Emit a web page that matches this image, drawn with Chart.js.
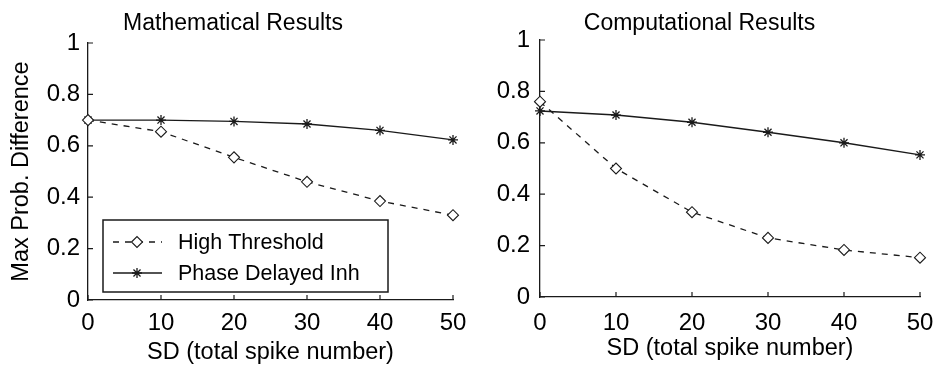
<!DOCTYPE html>
<html>
<head>
<meta charset="utf-8">
<script src="https://cdn.jsdelivr.net/npm/chart.js@4.4.1/dist/chart.umd.min.js"></script>
<style>
  html, body { margin: 0; padding: 0; background: #fff; }
  #wrap { position: relative; width: 933px; height: 369px; overflow: hidden; }
  .panel { position: absolute; top: 0; height: 369px; }
  #leftPanel { left: 0; width: 466px; }
  #rightPanel { left: 466px; width: 467px; }
</style>
</head>
<body>
<div id="wrap">
  <div class="panel" id="leftPanel"><canvas id="mathChart"></canvas></div>
  <div class="panel" id="rightPanel"><canvas id="compChart"></canvas></div>
</div>
<script>
// values
const sdValues = [0, 10, 20, 30, 40, 50];
const yTickValues = [0, 0.2, 0.4, 0.6, 0.8, 1];
const seriesLabels = ["High Threshold", "Phase Delayed Inh"];

const mathHighThreshold = [0.70, 0.655, 0.555, 0.46, 0.385, 0.33];
const mathPhaseDelayed = [0.70, 0.70, 0.695, 0.685, 0.66, 0.623];
const compHighThreshold = [0.76, 0.50, 0.33, 0.23, 0.183, 0.153];
const compPhaseDelayed = [0.724, 0.708, 0.68, 0.641, 0.60, 0.553];

const INK = "#1a1a1a";
const FONT = "'Liberation Sans', Arial, Helvetica, sans-serif";

const $ = (id) => document.getElementById(id);

// MATLAB-style inward tick marks
const inwardTicks = {
  id: "inwardTicks",
  afterDraw(chart) {
    const { ctx, chartArea, scales } = chart;
    ctx.save();
    ctx.strokeStyle = INK;
    ctx.lineWidth = 1.2;
    ctx.beginPath();
    scales.x.ticks.forEach((t) => {
      const px = scales.x.getPixelForValue(t.value);
      ctx.moveTo(px, chartArea.bottom);
      ctx.lineTo(px, chartArea.bottom - 5);
    });
    scales.y.ticks.forEach((t) => {
      const py = scales.y.getPixelForValue(t.value);
      ctx.moveTo(chartArea.left, py);
      ctx.lineTo(chartArea.left + 5, py);
    });
    ctx.stroke();
    ctx.restore();
  }
};

const legendBox = {
  id: "legendBox",
  afterDatasetsDraw(chart, args, opts) {
    if (!opts.show) return;
    const { ctx, chartArea } = chart;
    const x0 = chartArea.left + 15;
    const y0 = chartArea.top + 177;
    const w = 285, h = 72;
    ctx.save();
    ctx.fillStyle = "#fff";
    ctx.fillRect(x0, y0, w, h);
    ctx.strokeStyle = INK;
    ctx.lineWidth = 1.5;
    ctx.strokeRect(x0, y0, w, h);
    const rows = [y0 + 22, y0 + 53];
    chart.data.datasets.forEach((ds, i) => {
      const y = rows[i];
      ctx.strokeStyle = INK;
      ctx.lineWidth = ds.borderWidth;
      ctx.setLineDash(ds.borderDash || []);
      ctx.beginPath();
      ctx.moveTo(x0 + 10, y);
      ctx.lineTo(x0 + 59, y);
      ctx.stroke();
      ctx.setLineDash([]);
      ctx.fillStyle = "#fff";
      ctx.lineWidth = ds.pointBorderWidth;
      Chart.helpers.drawPoint(ctx, { pointStyle: ds.pointStyle, radius: ds.pointRadius, rotation: 0, borderWidth: ds.pointBorderWidth }, x0 + 34, y);
      ctx.fillStyle = "#000";
      ctx.font = `21.5px ${FONT}`;
      ctx.textAlign = "left";
      ctx.textBaseline = "middle";
      ctx.fillText(ds.label, x0 + 75, y + 1);
    });
    ctx.restore();
  }
};

function toPoints(vals) {
  return sdValues.map((x, i) => ({ x, y: vals[i] }));
}

function makeDatasets(hi, pd) {
  return [
    {
      label: seriesLabels[0], data: toPoints(hi),
      borderColor: INK, borderWidth: 1.3, borderDash: [6, 6],
      pointStyle: "rectRot", pointRadius: 5.5, pointBorderWidth: 1.1,
      pointBackgroundColor: "#fff", pointBorderColor: INK,
      clip: false, tension: 0
    },
    {
      label: seriesLabels[1], data: toPoints(pd),
      borderColor: INK, borderWidth: 1.4,
      pointStyle: "star", pointRadius: 5, pointBorderWidth: 1.3,
      pointBackgroundColor: INK, pointBorderColor: INK,
      clip: false, tension: 0
    }
  ];
}

function makePanel(canvasId, p) {
  return new Chart($(canvasId), {
    type: "line",
    data: { datasets: makeDatasets(p.hi, p.pd) },
    plugins: [inwardTicks, legendBox],
    options: {
      responsive: true,
      maintainAspectRatio: false,
      animation: false,
      layout: { padding: { left: 0, right: 0, top: 0, bottom: 0 } },
      plugins: {
        legend: { display: false },
        tooltip: { enabled: false },
        legendBox: { show: p.legend },
        title: {
          display: true, text: p.title, color: "#000",
          font: { family: FONT, size: 23, weight: "normal" },
          padding: { top: 10.2, bottom: p.titlePadBottom }
        }
      },
      scales: {
        x: {
          type: "linear", min: 0, max: 50,
          afterBuildTicks: (s) => { s.ticks = sdValues.map((v) => ({ value: v })); },
          afterFit: (s) => {
            s.height = p.xAxisHeight;
            s.paddingLeft = 0;
            s.paddingRight = p.rightGap;
          },
          ticks: { color: "#000", padding: p.xTickPad, font: { family: FONT, size: 24 } },
          grid: { display: false, drawTicks: false },
          border: { display: true, color: INK, width: 1.3 },
          title: {
            display: true, text: "SD (total spike number)", color: "#000",
            font: { family: FONT, size: 23.5 },
            padding: { top: 0, bottom: p.xTitlePad }
          }
        },
        y: {
          min: 0, max: 1,
          afterBuildTicks: (s) => { s.ticks = yTickValues.map((v) => ({ value: v })); },
          afterFit: (s) => { s.width = p.yAxisWidth; },
          ticks: {
            color: "#000", padding: p.yTickPad, font: { family: FONT, size: 24 },
            callback: (v) => String(Number(v.toFixed(1)))
          },
          grid: { display: false, drawTicks: false },
          border: { display: true, color: INK, width: 1.3 },
          title: {
            display: p.yTitle, text: "Max Prob. Difference", color: "#000",
            font: { family: FONT, size: 23.5 },
            padding: { top: 7.9, bottom: 0 }
          }
        }
      }
    }
  });
}

makePanel("mathChart", {
  title: "Mathematical Results", hi: mathHighThreshold, pd: mathPhaseDelayed,
  legend: true, yTitle: true, yAxisWidth: 88, xAxisHeight: 69, rightGap: 13,
  titlePadBottom: 5.2, xTickPad: 8.8, yTickPad: 8, xTitlePad: 1.9
});

makePanel("compChart", {
  title: "Computational Results", hi: compHighThreshold, pd: compPhaseDelayed,
  legend: false, yTitle: false, yAxisWidth: 74, xAxisHeight: 72, rightGap: 13,
  titlePadBottom: 2.2, xTickPad: 11.8, yTickPad: 10, xTitlePad: 5.9
});
</script>
</body>
</html>
